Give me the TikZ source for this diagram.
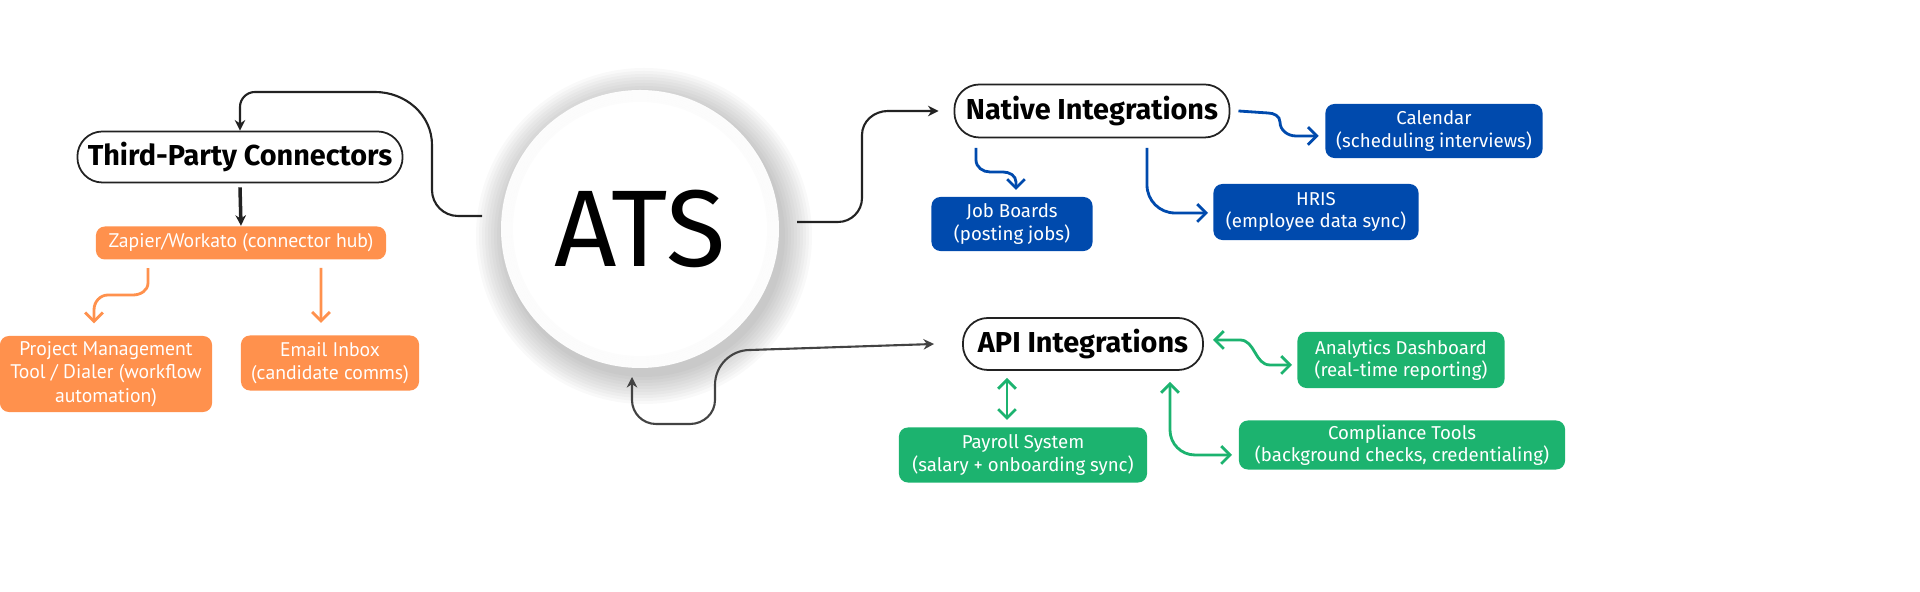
\documentclass[tikz,border=0pt]{standalone}
\usepackage{fontspec}
\setmainfont{Fira Sans}
\newfontfamily\boxfont{PT Sans}
\usetikzlibrary{arrows.meta}
\definecolor{org}{HTML}{FF914D}
\definecolor{blu}{HTML}{004AAD}
\definecolor{grn}{HTML}{1CB36F}
\definecolor{ink}{HTML}{222222}
\begin{document}
\begin{tikzpicture}[x=0.01cm,y=-0.01cm,
  head/.style={draw=ink,line width=0.5pt,rounded corners=0.25cm,fill=white,font=\fontsize{8.2}{10}\selectfont\bfseries,inner sep=0pt,anchor=center},
  tile/.style={rounded corners=0.09cm,text=white,inner sep=0pt,align=center,font=\fontsize{5.3}{6.4}\selectfont},
  otile/.style={tile,fill=org,font=\boxfont\fontsize{5.6}{6.6}\selectfont},
  btile/.style={tile,fill=blu},
  gtile/.style={tile,fill=grn},
  bl/.style={draw=ink,line width=0.6pt,-{Stealth[length=3pt,width=3pt]}},
  ol/.style={draw=org,line width=0.8pt,-{Straight Barb[length=2.5pt,width=5pt]}},
  bul/.style={draw=blu,line width=0.8pt,-{Straight Barb[length=2.5pt,width=5pt]}},
  gl/.style={draw=grn,line width=0.8pt,{Straight Barb[length=2.5pt,width=5pt]}-{Straight Barb[length=2.5pt,width=5pt]}}]
\useasboundingbox (0,0) rectangle (1920,592);
% ATS circle with soft shadow
\foreach \r in {168,165,...,141}{\fill[black,opacity=0.022] (644,236) circle (\r);}
\fill[white] (640,229) circle (139);
\foreach \r in {138,136,...,128}{\draw[black,opacity=0.012,line width=0.6pt] (640,229) circle (\r);}
\node[font=\fontsize{31}{36}\selectfont] (ats) at (640,229) {ATS};
\coordinate (atsL) at (482,216);
\coordinate (atsR) at (797,222);
\coordinate (atsB) at (632,377);
% headings
\node[head,minimum width=3.25cm,minimum height=0.51cm] (tp) at (240,157) {Third-Party Connectors};
\node[head,minimum width=2.75cm,minimum height=0.53cm] (ni) at (1092,111) {Native Integrations};
\node[head,minimum width=2.40cm,minimum height=0.52cm] (api) at (1083,344) {API Integrations};
% orange
\node[otile,minimum width=2.90cm,minimum height=0.33cm] (zap) at (241,243) {Zapier/Workato (connector hub)};
\node[otile,minimum width=2.12cm,minimum height=0.76cm] (pm) at (106,374) {Project Management\\Tool / Dialer (workflow\\automation)};
\node[otile,minimum width=1.78cm,minimum height=0.55cm] (em) at (330,363) {Email Inbox\\(candidate comms)};
% blue
\node[btile,minimum width=2.17cm,minimum height=0.54cm] (cal) at (1434,131) {Calendar\\(scheduling interviews)};
\node[btile,minimum width=1.61cm,minimum height=0.54cm] (jb) at (1012,224) {Job Boards\\(posting jobs)};
\node[btile,minimum width=2.05cm,minimum height=0.56cm] (hr) at (1316,212) {HRIS\\(employee data sync)};
% green
\node[gtile,minimum width=2.07cm,minimum height=0.56cm] (an) at (1401,360) {Analytics Dashboard\\(real-time reporting)};
\node[gtile,minimum width=2.48cm,minimum height=0.55cm] (pay) at (1023,455) {Payroll System\\(salary + onboarding sync)};
\node[gtile,minimum width=3.26cm,minimum height=0.49cm] (co) at (1402,445) {Compliance Tools\\(background checks, credentialing)};
% black connectors
\draw[bl] (atsL) -- (458,216) to[out=180,in=-90] (432,190) -- (432,145) to[out=90,in=0] (375,92) -- (255,92) to[out=180,in=90] (240,107) -- (tp.north);
\draw[bl,line width=1pt] (tp.south) ++(0,4) -- (zap.north);
\draw[bl] (atsR) -- (838,222) to[out=0,in=-90] (862,198) -- (862,135) to[out=90,in=180] (888,111) -- ([xshift=-0.15cm]ni.west);
\draw[draw=ink!85,line width=0.6pt,{Stealth[length=3pt,width=3pt]}-{Stealth[length=3pt,width=3pt]}] (atsB) -- (632,400) to[out=-90,in=180] (656,424) -- (690,424) to[out=0,in=-90] (715,400) -- (715,385) to[out=90,in=180] (750,350) -- ([xshift=-0.28cm]api.west);
% orange connectors
\draw[ol] ([xshift=-0.93cm,yshift=-0.08cm]zap.south) -- (148,283) to[out=-90,in=0] (133,295) -- (108,295) to[out=180,in=90] (94,310) -- ([xshift=-0.12cm,yshift=0.12cm]pm.north);
\draw[ol] (321,268) -- ([xshift=-0.09cm,yshift=0.12cm]em.north);
% blue connectors
\draw[bul] ([xshift=0.08cm]ni.east) -- (1268,113) to[out=0,in=90] (1280,122) to[out=-90,in=180] (1296,136) -- ([xshift=-0.06cm]cal.west |- 0,136);
\draw[bul] (976,148) -- (976,160) to[out=-90,in=180] (990,172) -- (1003,172) to[out=0,in=90] (1016,182) -- (1016,190);
\draw[bul] (1147,148) -- (1147,185) to[out=-90,in=180] (1175,213) -- (1208,213);
% green connectors
\draw[gl] (1213,340) -- (1240,340) to[out=0,in=180] (1270,365) -- (1292,365);
\draw[gl] (1007,378) -- (1007,420);
\draw[gl] (1170,382) -- (1170,430) to[out=-90,in=180] (1195,455) -- (1232,455);
\end{tikzpicture}
\end{document}
